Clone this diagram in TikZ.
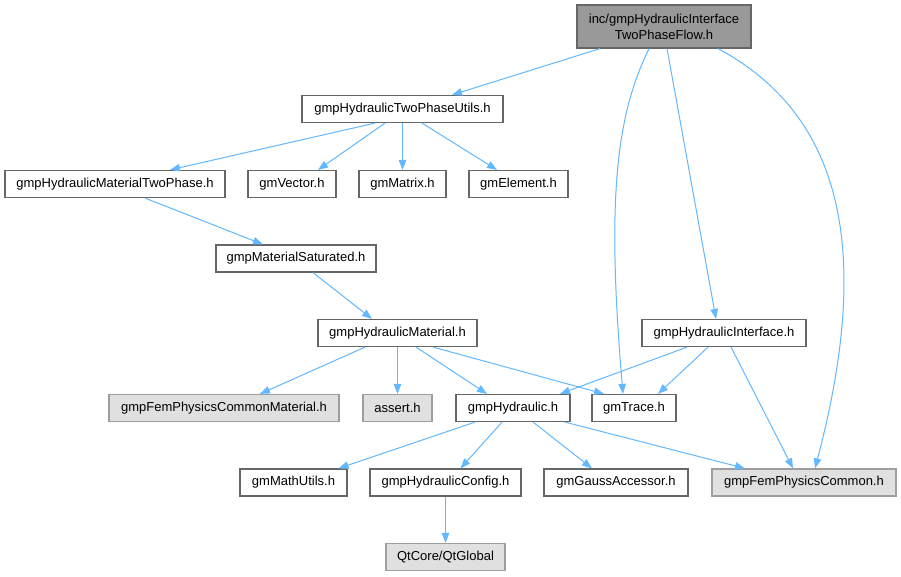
\documentclass[tikz,border=0pt]{standalone}
\usepackage{fontspec}
\setmainfont{Liberation Sans}
\usetikzlibrary{arrows.meta}
\definecolor{depblue}{HTML}{63B8FF}

\begin{document}
\begin{tikzpicture}[x=1pt, y=1pt,
		file/.style={draw=black!60, fill=white, line width=1.2pt, minimum height=27pt, inner sep=0pt, font=\fontsize{13}{16}\selectfont},
		sysfile/.style={file, draw=black!38, fill=black!12},
		mainfile/.style={file, fill=black!40, align=center, minimum height=43pt},
		dep/.style={draw=depblue, line width=1pt, -{Triangle[length=10pt, width=7.5pt]}}]
		\fill[white] (0,0) rectangle (901,-576);
		\useasboundingbox (0,0) rectangle (901,-576);
		\node[mainfile, minimum width=174pt] (flow) at (664,-26.5) {inc/gmpHydraulicInterface\\TwoPhaseFlow.h};
		\node[file, minimum width=201pt] (utils) at (402.5,-109) {gmpHydraulicTwoPhaseUtils.h};
		\node[file, minimum width=220pt] (twophase) at (115,-184) {gmpHydraulicMaterialTwoPhase.h};
		\node[file, minimum width=88pt] (vector) at (292,-184) {gmVector.h};
		\node[file, minimum width=87pt] (matrix) at (402.5,-184) {gmMatrix.h};
		\node[file, minimum width=99pt] (element) at (518.5,-184) {gmElement.h};
		\node[file, minimum width=160pt] (saturated) at (296,-258.5) {gmpMaterialSaturated.h};
		\node[file, minimum width=159pt] (material) at (397.5,-333) {gmpHydraulicMaterial.h};
		\node[file, minimum width=164pt] (interface) at (724,-333) {gmpHydraulicInterface.h};
		\node[sysfile, minimum width=230pt] (femmat) at (224,-408) {gmpFemPhysicsCommonMaterial.h};
		\node[sysfile, minimum width=69pt] (assert) at (397.5,-408) {assert.h};
		\node[file, minimum width=114pt] (hydraulic) at (513,-408) {gmpHydraulic.h};
		\node[file, minimum width=84pt] (trace) at (634,-408) {gmTrace.h};
		\node[file, minimum width=107pt] (mathutils) at (293.5,-482.5) {gmMathUtils.h};
		\node[file, minimum width=151pt] (config) at (445.5,-482.5) {gmpHydraulicConfig.h};
		\node[file, minimum width=144pt] (gauss) at (616,-482.5) {gmGaussAccessor.h};
		\node[sysfile, minimum width=184pt] (femcommon) at (804,-482.5) {gmpFemPhysicsCommon.h};
		\node[sysfile, minimum width=119pt] (qtglobal) at (445.5,-557) {QtCore/QtGlobal};
		% from the top file
		\draw[dep] ([xshift=-64pt]flow.south) -- ([xshift=49.5pt]utils.north);
		\draw[dep] ([xshift=-15pt]flow.south) .. controls +(-32,-66) and +(-17,200) .. ([xshift=-11pt]trace.north);
		\draw[dep] ([xshift=3pt]flow.south) -- ([xshift=-8pt]interface.north);
		\draw[dep] ([xshift=54pt]flow.south) .. controls +(140,-75) and +(50,190) .. ([xshift=11pt]femcommon.north);
		% utils
		\draw[dep] ([xshift=-27.5pt]utils.south) -- ([xshift=55pt]twophase.north);
		\draw[dep] ([xshift=-17.5pt]utils.south) -- ([xshift=26pt]vector.north);
		\draw[dep] (utils.south) -- (matrix.north);
		\draw[dep] ([xshift=19.5pt]utils.south) -- ([xshift=-21.5pt]element.north);
		\draw[dep] ([xshift=30pt]twophase.south) -- ([xshift=-33pt]saturated.north);
		\draw[dep] ([xshift=17pt]saturated.south) -- ([xshift=-25.5pt]material.north);
		% material
		\draw[dep] ([xshift=-32.5pt]material.south) -- ([xshift=36pt]femmat.north);
		\draw[dep] (material.south) -- (assert.north);
		\draw[dep] ([xshift=18.5pt]material.south) -- ([xshift=-26pt]hydraulic.north);
		\draw[dep] ([xshift=35.5pt]material.south) -- ([xshift=-30pt]trace.north);
		% interface
		\draw[dep] ([xshift=-37pt]interface.south) -- ([xshift=47pt]hydraulic.north);
		\draw[dep] ([xshift=-16pt]interface.south) -- ([xshift=24pt]trace.north);
		\draw[dep] ([xshift=7pt]interface.south) -- ([xshift=-11pt]femcommon.north);
		% hydraulic
		\draw[dep] ([xshift=-38pt]hydraulic.south) -- ([xshift=45pt]mathutils.north);
		\draw[dep] ([xshift=-11pt]hydraulic.south) -- ([xshift=15pt]config.north);
		\draw[dep] ([xshift=20pt]hydraulic.south) -- ([xshift=-24pt]gauss.north);
		\draw[dep] ([xshift=52pt]hydraulic.south) -- ([xshift=-59pt]femcommon.north);
		\draw[dep] (config.south) -- (qtglobal.north);
	\end{tikzpicture}
\end{document}
